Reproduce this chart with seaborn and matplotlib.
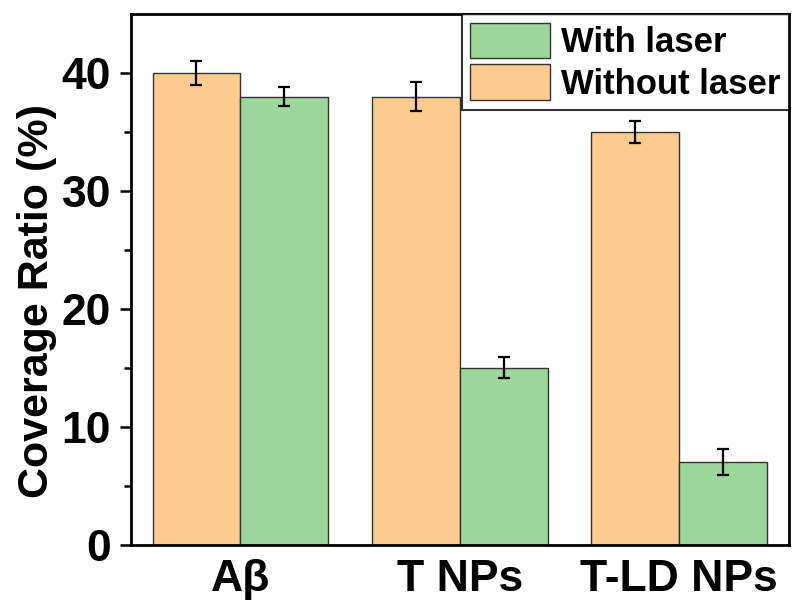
import seaborn as sns
import matplotlib.pyplot as plt
import pandas as pd
from matplotlib.patches import Patch

categories = ["A\u03b2", "T NPs", "T-LD NPs"]
without_laser = [40, 38, 35]
without_err = [1.0, 1.2, 0.9]
with_laser = [38, 15, 7]
with_err = [0.8, 0.9, 1.1]

orange = "#FDCB8F"
green = "#9DD69A"

df = pd.DataFrame({
    "group": categories * 2,
    "condition": ["Without laser"] * 3 + ["With laser"] * 3,
    "value": without_laser + with_laser,
    "err": without_err + with_err,
})

sns.set_style("ticks")
plt.rcParams['font.family'] = ['Liberation Sans', 'DejaVu Sans']
plt.rcParams['font.weight'] = 'bold'
plt.rcParams['text.color'] = 'black'
plt.rcParams['axes.labelcolor'] = 'black'
plt.rcParams['xtick.color'] = 'black'
plt.rcParams['ytick.color'] = 'black'

fig = plt.figure(figsize=(7.92, 6.08), dpi=100)
ax = fig.add_axes([0.165, 0.104, 0.831, 0.873])

hue_order = ["Without laser", "With laser"]
sns.barplot(data=df, x="group", y="value", hue="condition", hue_order=hue_order,
            palette={"Without laser": orange, "With laser": green}, saturation=1,
            errorbar=None, width=0.8, edgecolor="#333333", linewidth=1.0,
            legend=False, ax=ax)

# error bars at the bar centres
for cont, cond in zip(ax.containers, hue_order):
    sub = df[df["condition"] == cond]
    xs = [p.get_x() + p.get_width() / 2 for p in cont.patches]
    ax.errorbar(xs, sub["value"], yerr=sub["err"], fmt="none", ecolor="black",
                elinewidth=1.6, capsize=4.5, capthick=1.6)

ax.set_ylim(0, 45)
ax.set_xlim(-0.5, 2.5)
ax.set_yticks([0, 10, 20, 30, 40])
ax.set_yticks([5, 15, 25, 35], minor=True)
ax.set_xlabel("")
ax.set_ylabel("Coverage Ratio (%)", fontsize=31, fontweight="bold")
ax.yaxis.set_label_coords(-0.112, 0.46)
ax.tick_params(axis="y", which="major", labelsize=32, width=1.8, length=8, pad=6, direction="out")
ax.tick_params(axis="y", which="minor", width=1.8, length=5, direction="out")
ax.tick_params(axis="x", labelsize=32, length=0, pad=10)
for lab in ax.get_xticklabels() + ax.get_yticklabels():
    lab.set_fontweight("bold")
for s in ax.spines.values():
    s.set_visible(True)
    s.set_linewidth(2)
    s.set_color("black")

handles = [Patch(facecolor=green, edgecolor="#333333", label="With laser"),
           Patch(facecolor=orange, edgecolor="#333333", label="Without laser")]
leg = ax.legend(handles=handles, loc="upper right", frameon=True,
                fancybox=False, edgecolor="black", handlelength=2.3, handleheight=1.2,
                borderaxespad=0.0, borderpad=0.25, labelspacing=0.15, handletextpad=0.3,
                prop={"weight": "bold", "size": 25})
leg.get_frame().set_linewidth(1.5)

fig.savefig("out.png", dpi=100)
